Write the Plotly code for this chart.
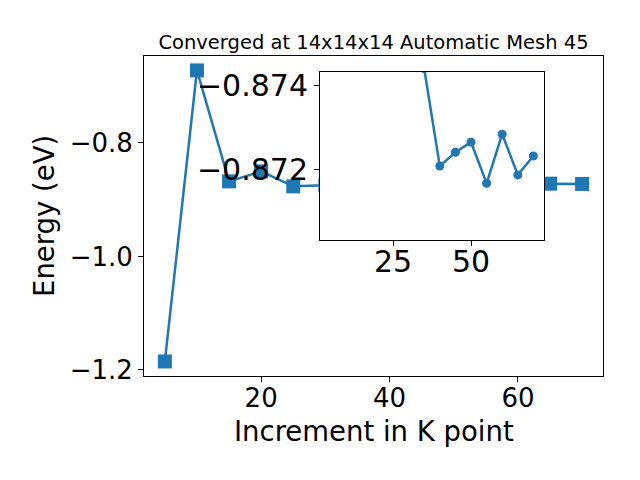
import plotly.graph_objects as go

# K-point increments and energies (eV)
k_points = [5, 10, 15, 20, 25, 30, 35, 40, 45, 50, 55, 60, 65, 70]
energy = [-1.185, -0.6724, -0.8678, -0.8501, -0.8766, -0.8748, -0.87441,
          -0.87209, -0.87242, -0.87266, -0.87168, -0.87285, -0.87188, -0.87233]

# inset (zoomed) data
inset_k = [35, 40, 45, 50, 55, 60, 65, 70]
inset_energy = [-0.87441, -0.87209, -0.87242, -0.87266, -0.87168, -0.87285, -0.87188, -0.87233]

main_yticks = [-0.8, -1.0, -1.2]
main_xticks = [20, 40, 60]
inset_yticks = [-0.874, -0.872]
inset_xticks = [25, 50]

title_text = "Converged at 14x14x14 Automatic Mesh 45"
x_title = "Increment in K point"
y_title = "Energy (eV)"

C = "#1f77b4"
FONT = "DejaVu Sans"

# page body has an 8px margin: figure is sized to fit the 640x480 window
W, H = 632, 472
OFF = 8


def fmt(v, nd):
    s = f"{abs(v):.{nd}f}"
    return ("\u2212" + s) if v < 0 else s


fig = go.Figure()
fig.add_trace(go.Scatter(x=k_points, y=energy, mode="lines+markers",
                         line=dict(color=C, width=2.5),
                         marker=dict(symbol="square", size=14, color=C),
                         xaxis="x", yaxis="y", showlegend=False))
fig.add_trace(go.Scatter(x=inset_k, y=inset_energy, mode="lines+markers",
                         line=dict(color=C, width=2.5),
                         marker=dict(symbol="circle", size=9, color=C),
                         xaxis="x2", yaxis="y2", showlegend=False))

ix0, ix1 = 1.6, 73.4
iy0, iy1 = -0.87033, -0.87433

# opaque inset background
fig.add_shape(type="rect", xref="x2", yref="y2", x0=ix0, x1=ix1, y0=iy0, y1=iy1,
              fillcolor="white", line=dict(width=0), layer="below")


def axis_common(size, standoff):
    return dict(showline=True, linecolor="black", linewidth=1, mirror=True,
                ticks="outside", ticklen=5, tickwidth=1, tickcolor="black",
                showgrid=False, zeroline=False, ticklabelstandoff=standoff,
                tickfont=dict(family=FONT, size=size, color="black"))


fig.update_layout(
    width=W, height=H,
    margin=dict(l=144 - OFF, r=640 - 603, t=56 - OFF, b=480 - 376),
    paper_bgcolor="white", plot_bgcolor="white",
    font=dict(family=FONT, color="black"),
    title=dict(text=title_text, x=((144 + 603) / 2 - OFF) / W, xanchor="center",
               y=1 - (42 - OFF) / H, yanchor="middle", font=dict(family=FONT, size=19.5)),
    xaxis=dict(domain=[0, 1], range=[1.75, 73.25], tickvals=main_xticks,
               ticktext=[str(v) for v in main_xticks], anchor="y", **axis_common(26, -6)),
    yaxis=dict(domain=[0, 1], range=[-1.2106, -0.647], tickvals=main_yticks,
               ticktext=[fmt(v, 1) for v in main_yticks], anchor="x", **axis_common(26, 0)),
    xaxis2=dict(domain=[(320 - 144) / 459, (544 - 144) / 459], range=[ix0, ix1],
                tickvals=inset_xticks, ticktext=[str(v) for v in inset_xticks],
                anchor="y2", **axis_common(30, -10)),
    yaxis2=dict(domain=[(376 - 240) / 320, (376 - 72) / 320], range=[iy0, iy1],
                tickvals=inset_yticks, ticktext=[fmt(v, 3) for v in inset_yticks],
                anchor="x2", **axis_common(30, 0)),
)

fig.add_annotation(text=x_title, xref="paper", yref="paper",
                   x=0.5, y=-(431 - 376) / 320, xanchor="center", yanchor="middle",
                   showarrow=False, font=dict(family=FONT, size=27.5))
fig.add_annotation(text=y_title, xref="paper", yref="paper",
                   x=-(144 - 44) / 459, y=0.5, xanchor="center", yanchor="middle",
                   textangle=-90, showarrow=False, font=dict(family=FONT, size=27.5))

fig.write_html("out.html")
